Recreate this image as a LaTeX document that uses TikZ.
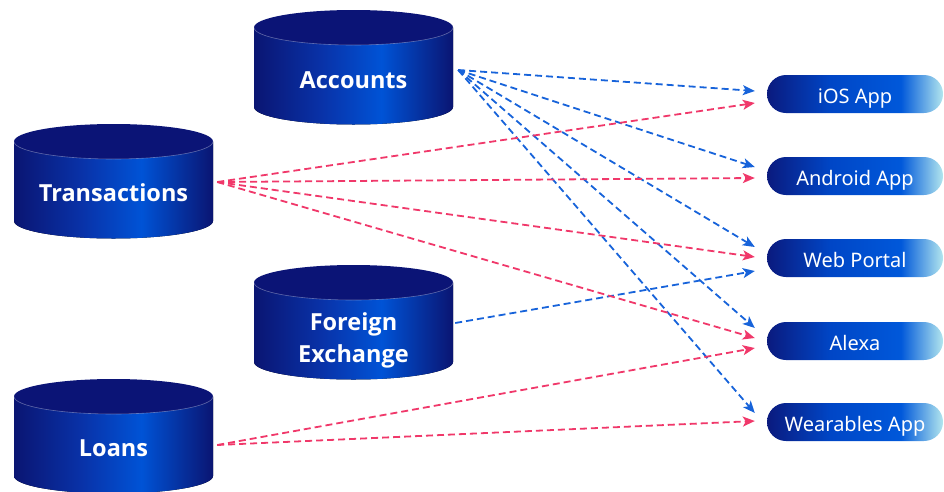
\documentclass[tikz,border=0pt]{standalone}
\usepackage{fontspec}
\setmainfont{Noto Sans}
\newfontfamily\cylfont{Open Sans}
\usetikzlibrary{arrows.meta}

\definecolor{cyldark}{HTML}{0A1572}
\definecolor{cylmid}{HTML}{0932A8}
\definecolor{cylbright}{HTML}{0053D6}
\definecolor{cyltopc}{HTML}{0B1476}
\definecolor{pilldark}{HTML}{0A1A7E}
\definecolor{pillmid}{HTML}{0046C6}
\definecolor{pillblue}{HTML}{0058DA}
\definecolor{pilllight}{HTML}{B2E6EE}
\definecolor{flowblue}{HTML}{1763DA}
\definecolor{flowpink}{HTML}{F0386A}

% left-to-right gradient of a cylinder wall
\pgfdeclarehorizontalshading{cylbody}{100bp}{color(0bp)=(cyldark); color(25bp)=(cyldark);
  color(42bp)=(cylmid); color(57bp)=(cylbright); color(75bp)=(cyldark); color(100bp)=(cyldark)}
% left-to-right gradient of an app pill
\pgfdeclarehorizontalshading{pillgrad}{100bp}{color(0bp)=(pilldark); color(25bp)=(pilldark);
  color(43bp)=(pillmid); color(63bp)=(pillblue); color(75bp)=(pilllight); color(100bp)=(pilllight)}

\tikzset{
  cyltext/.style={minimum width=199pt, inner sep=0pt, text=white, align=center,
    font=\cylfont\bfseries\fontsize{23.5}{32}\selectfont},
  pill/.style={shading=pillgrad, rounded corners=19pt, minimum width=176pt,
    minimum height=38pt, inner sep=0pt, text=white, text height=20pt, text depth=1pt,
    font=\fontsize{20}{22}\selectfont},
  flow/.style={line width=1.8pt, dash pattern=on 7pt off 4pt,
    -{Stealth[length=12pt,width=10pt,inset=3pt]}},
  blueflow/.style={flow, draw=flowblue},
  pinkflow/.style={flow, draw=flowpink},
}

% database cylinder: #1 name, #2 left x, #3 top y, #4 text offset, #5 label
\newcommand\dbcyl[5]{%
  \fill[shading=cylbody] (#2,#3+17.5) -- (#2,#3+97)
    arc[start angle=180, end angle=0, x radius=99.5, y radius=17.5]
    -- (#2+199,#3+17.5) -- cycle;
  \fill[cyltopc] (#2+99.5,#3+17.5) ellipse[x radius=99.5, y radius=17.5];
  \draw[white, opacity=0.35, line width=0.6pt] (#2,#3+17.5)
    arc[start angle=180, end angle=0, x radius=99.5, y radius=17.5];
  \node[cyltext] (#1) at (#2+99.5,#3+#4) {#5};
}

\begin{document}
\begin{tikzpicture}[x=1pt, y=-1pt]
\useasboundingbox (0,0) rectangle (944,491);

% data sources
\dbcyl{acc}{254}{10}{70}{Accounts}
\dbcyl{trx}{14}{124}{68.5}{Transactions}
\dbcyl{fx}{254}{265}{75}{Foreign\\Exchange}
\dbcyl{loan}{14}{379}{69}{Loans}

% consuming channels
\node[pill] (ios)  at (855,94)  {iOS App};
\node[pill] (andr) at (855,176) {Android App};
\node[pill] (web)  at (855,258) {Web Portal};
\node[pill] (alx)  at (855,341) {Alexa};
\node[pill] (wear) at (855,422) {Wearables App};

% Accounts feeds every channel
\draw[blueflow] ([xshift=5pt,yshift=10pt]acc.east) -- ([xshift=-12pt,yshift=3pt]ios.west);
\draw[blueflow] ([xshift=5pt,yshift=10pt]acc.east) -- ([xshift=-12pt,yshift=9pt]andr.west);
\draw[blueflow] ([xshift=5pt,yshift=10pt]acc.east) -- ([xshift=-12pt,yshift=11pt]web.west);
\draw[blueflow] ([xshift=5pt,yshift=10pt]acc.east) -- ([xshift=-12pt,yshift=13pt]alx.west);
\draw[blueflow] ([xshift=5pt,yshift=10pt]acc.east) -- ([xshift=-12pt,yshift=9pt]wear.west);

% Foreign Exchange feeds the web portal
\draw[blueflow] ([xshift=2pt,yshift=17pt]fx.east) -- ([xshift=-12pt,yshift=-13pt]web.west);

% Transactions
\draw[pinkflow] ([xshift=4pt,yshift=10.5pt]trx.east) -- ([xshift=-12pt,yshift=-9pt]ios.west);
\draw[pinkflow] ([xshift=4pt,yshift=10.5pt]trx.east) -- ([xshift=-12pt,yshift=-2pt]andr.west);
\draw[pinkflow] ([xshift=4pt,yshift=10.5pt]trx.east) -- ([xshift=-12pt,yshift=1pt]web.west);
\draw[pinkflow] ([xshift=4pt,yshift=10.5pt]trx.east) -- ([xshift=-12pt,yshift=3pt]alx.west);

% Loans
\draw[pinkflow] ([xshift=4pt,yshift=3pt]loan.east) -- ([xshift=-12pt,yshift=-7pt]alx.west);
\draw[pinkflow] ([xshift=4pt,yshift=3pt]loan.east) -- ([xshift=-12pt,yshift=1pt]wear.west);
\end{tikzpicture}
\end{document}
